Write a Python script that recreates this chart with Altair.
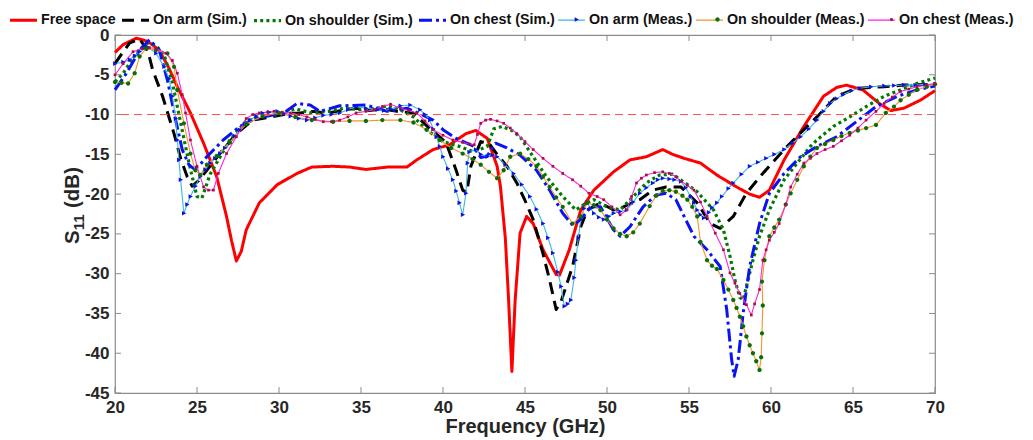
import altair as alt
import pandas as pd

FONT = "Liberation Sans"
TXT = "#262626"

series_names = ["Free space", "On arm (Sim.)", "On shoulder (Sim.)", "On chest (Sim.)",
                "On arm (Meas.)", "On shoulder (Meas.)", "On chest (Meas.)"]
meas_names = series_names[4:]

line_colors = ["#ff0000", "#000000", "#007a00", "#0a14f0", "#3cb6ea", "#f0962a", "#ff22dd"]
line_dashes = [[1, 0], [12, 7], [3, 3.2], [13, 4, 3, 4], [1, 0], [1, 0], [1, 0]]
line_widths = [3, 3, 3.2, 3, 1.1, 1.1, 1.1]
marker_colors = ["#1010e0", "#0a6e0a", "#a3123f"]
marker_paths = [
    "M-0.14,-0.17L0.18,0L-0.14,0.17Z",
    "M0.16,0A0.16,0.16,0,1,1,-0.16,0A0.16,0.16,0,1,1,0.16,0Z",
    "M-0.1,-0.1H0.1V0.1H-0.1Z",
]
marker_legend_x = [448, 589, 763]

x_ticks = [20, 25, 30, 35, 40, 45, 50, 55, 60, 65, 70]
y_ticks = [-45, -40, -35, -30, -25, -20, -15, -10, -5, 0]
ref_level = [-10]

# y-axis title pieces: S, subscript 11, (dB)
ytitle_main = ["S"]
ytitle_sub = ["11"]
ytitle_unit = ["(dB)"]

# ---- Free space
fs_f = [20, 20.5, 21.3, 22.0, 22.7, 23.3, 23.8, 24.6, 25.4, 26.2, 26.8, 27.1, 27.4, 27.7, 28.0, 28.8,
        29.9, 31.1, 32.0, 33.3, 34.3, 35.3, 36.6, 37.8, 38.4, 39.4, 40.4, 41.4, 42.0, 42.7, 43.3, 43.5,
        43.8, 44.0, 44.2, 44.4, 44.7, 45.1, 45.5, 46.1, 46.9, 47.1, 47.7, 48.4, 49.2, 50.4, 51.4, 52.4,
        53.4, 54.0, 54.7, 55.7, 56.7, 57.9, 58.7, 59.3, 59.9, 60.8, 62.0, 63.2, 64.0, 64.6, 65.6, 66.6,
        67.3, 68.1, 69.1, 70]
fs_db = [-2.2, -1.2, -0.4, -0.8, -1.9, -4.2, -6.5, -9.8, -13.6, -17.8, -22.8, -25.8, -28.4, -27.2, -24.5, -21.1,
         -18.8, -17.4, -16.6, -16.5, -16.6, -16.9, -16.6, -16.6, -15.7, -14.4, -13.8, -12.4, -12.0, -13.0, -16.5, -19.0,
         -25.5, -33.3, -42.3, -33.3, -24.9, -22.8, -23.7, -27.0, -30.1, -30.2, -27.0, -22.0, -19.5, -17.2, -15.7, -15.3,
         -14.4, -15.0, -15.5, -16.1, -17.6, -19.1, -20.0, -20.4, -19.5, -15.7, -11.5, -7.7, -6.6, -6.3, -6.9, -8.6,
         -9.5, -9.2, -8.2, -7.0]

# ---- On arm (Sim.)
arm_sim_f = [20, 20.4, 20.9, 21.5, 22.0, 22.3, 22.9, 23.6, 24.0, 24.4, 24.7, 25.1, 25.6, 26.4, 27.4, 28.4,
             29.5, 30.5, 31.3, 32.1, 33.0, 34.0, 34.7, 35.5, 36.3, 37.2, 38.2, 39.2, 39.8, 40.2, 40.8, 41.2,
             41.45, 41.7, 42.3, 42.8, 43.3, 43.9, 44.5, 45.0, 45.5, 46.1, 46.5, 46.9, 47.2, 47.5, 47.9, 48.4,
             48.8, 49.6, 50.4, 51.0, 52.0, 52.8, 53.6, 54.5, 55.5, 56.3, 56.9, 57.7, 58.5, 59.5, 60.8, 61.8,
             62.8, 64.0, 65.2, 66.9, 68.1, 70]
arm_sim_db = [-3.6, -2.4, -1.0, -0.5, -2.0, -4.4, -7.7, -12.4, -15.5, -17.8, -19.0, -18.3, -17.0, -14.9, -12.4, -10.7,
              -10.3, -9.9, -9.8, -9.6, -9.8, -9.4, -9.2, -9.5, -9.3, -9.6, -9.8, -11.8, -12.8, -13.6, -17.0, -19.5,
              -19.8, -16.5, -13.4, -13.6, -15.0, -16.5, -18.6, -20.8, -23.2, -27.5, -30.8, -34.5, -33.5, -31.6, -29.1, -24.1,
              -22.0, -21.1, -22.0, -21.6, -20.7, -19.5, -19.1, -19.1, -21.1, -23.7, -24.3, -22.8, -19.9, -17.4, -14.4, -12.3,
              -10.3, -7.7, -6.7, -6.5, -6.3, -6.2]

# ---- On shoulder (Sim.)
sh_sim_f = [20, 20.5, 21.0, 21.5, 22.0, 22.5, 23.0, 23.5, 24.0, 24.5, 25.0, 25.3, 25.8, 26.5, 27.0, 28.0,
            29.0, 30.0, 31.0, 32.0, 33.0, 34.0, 35.0, 36.0, 36.6, 37.4, 38.2, 39.0, 40.0, 41.0, 41.9, 42.7,
            43.1, 43.6, 44.2, 44.7, 45.5, 46.3, 47.3, 48.1, 48.6, 49.2, 50.0, 50.8, 51.6, 52.4, 53.2, 54.0,
            54.7, 55.5, 56.5, 57.1, 57.5, 57.8, 58.1, 58.3, 58.5, 58.9, 59.3, 59.9, 60.8, 61.6, 62.4, 62.8,
            63.8, 64.8, 65.8, 66.9, 67.9, 68.9, 70]
sh_sim_db = [-5.9, -4.8, -3.2, -1.8, -1.0, -1.3, -2.5, -6.0, -11.0, -16.0, -20.3, -20.5, -17.5, -15.0, -13.2, -10.8,
             -10.2, -10.0, -9.3, -9.8, -9.6, -9.2, -9.4, -9.2, -8.9, -9.4, -10.3, -11.9, -13.4, -14.0, -14.7, -14.0,
             -11.8, -11.5, -12.0, -12.8, -15.3, -17.8, -20.3, -22.0, -21.3, -20.7, -21.6, -22.0, -20.3, -18.6, -17.6, -17.5,
             -18.5, -19.7, -22.0, -24.5, -27.8, -30.8, -33.0, -33.3, -31.6, -28.3, -25.3, -22.0, -18.2, -16.1, -14.0, -13.2,
             -11.5, -10.3, -9.0, -7.7, -6.9, -6.1, -5.4]

# ---- On chest (Sim.)
ch_sim_f = [20, 20.7, 21.5, 22.1, 22.7, 23.2, 23.7, 24.1, 24.5, 24.8, 25.1, 25.6, 26.6, 27.6, 28.5, 29.3,
            30.3, 31.1, 31.9, 32.5, 33.7, 35.3, 36.6, 37.8, 38.8, 39.4, 40.0, 40.8, 41.9, 42.3, 42.7, 43.2,
            43.9, 44.7, 45.7, 46.5, 47.3, 47.9, 48.4, 49.0, 49.6, 50.4, 50.8, 51.4, 52.2, 53.0, 53.6, 54.2,
            54.7, 55.3, 56.1, 56.9, 57.3, 57.6, 57.75, 58.0, 58.3, 58.7, 59.3, 59.9, 60.8, 61.8, 62.8, 64.0,
            65.2, 66.4, 67.7, 68.9, 70]
ch_sim_db = [-6.9, -4.8, -1.9, -0.6, -1.9, -5.7, -10.7, -14.4, -16.3, -16.8, -16.5, -15.3, -13.2, -11.5, -10.6, -10.2,
             -9.8, -8.6, -8.8, -9.6, -8.9, -8.8, -9.6, -9.2, -10.1, -10.7, -11.9, -13.0, -14.0, -15.4, -15.2, -13.6,
             -14.2, -15.1, -17.0, -19.5, -22.4, -23.9, -23.2, -21.6, -21.6, -24.5, -25.3, -24.1, -21.6, -20.1, -19.9, -20.7,
             -22.8, -25.3, -27.0, -29.1, -34.5, -40.8, -42.9, -40.8, -35.0, -29.1, -23.7, -19.9, -17.4, -15.3, -14.0, -12.8,
             -10.9, -9.0, -7.7, -6.9, -6.4]

# ---- On arm (Meas.)
arm_meas_f = [20, 20.5, 20.9, 21.2, 21.5, 22.0, 22.5, 23.0, 23.3, 23.5, 23.7, 23.8, 23.9, 24.0, 24.2, 24.4,
              24.6, 24.9, 25.2, 25.5, 25.8, 26.1, 26.4, 26.7, 27.0, 27.3, 27.6, 27.9, 28.2, 28.6, 29.0, 29.4,
              29.9, 30.3, 30.7, 31.2, 31.7, 32.2, 32.7, 33.2, 33.7, 34.2, 34.7, 35.3, 36.0, 36.4, 36.8, 37.4,
              38.0, 38.6, 38.9, 39.2, 39.4, 39.6, 39.8, 40.0, 40.3, 40.6, 40.8, 41.0, 41.2, 41.4, 41.5, 41.6,
              42.0, 42.3, 42.7, 43.0, 43.3, 43.8, 44.3, 44.8, 45.3, 45.7, 46.1, 46.4, 46.7, 47.0, 47.2, 47.4,
              47.6, 47.8, 48.0, 48.1, 48.25, 48.4, 48.6, 48.8, 49.0, 49.2, 49.5, 49.8, 50.1, 50.4, 50.8, 51.2,
              51.6, 52.0, 52.4, 52.8, 53.1, 53.4, 53.8, 54.1, 54.5, 54.8, 55.1, 55.3, 55.5, 55.7, 55.9, 56.2,
              56.4, 56.7, 57.0, 57.4, 57.7, 58.2, 58.7, 59.2, 59.7, 60.2, 60.8, 61.3, 61.8, 62.3, 62.8, 63.2,
              63.6, 64.0, 64.4, 64.9, 65.4, 66.1, 66.9, 67.5, 68.1, 68.8, 69.4, 70]
arm_meas_db = [-3.6, -3.4, -3.1, -2.6, -2.1, -1.5, -2.3, -4.0, -5.5, -7.7, -10.5, -13.2, -15.7, -18.2, -22.4, -21.3,
               -20.3, -19.0, -17.8, -16.9, -16.1, -15.5, -14.9, -14.2, -13.6, -12.7, -11.9, -11.2, -10.7, -10.2, -9.8, -9.7,
               -9.6, -9.9, -10.2, -10.5, -10.7, -10.4, -10.1, -10.0, -9.8, -9.4, -9.0, -9.2, -9.4, -9.5, -9.3, -8.9,
               -8.8, -9.4, -10.0, -10.7, -11.8, -12.8, -14.0, -15.3, -16.8, -18.2, -19.6, -21.1, -22.6, -19.9, -16.1, -14.7,
               -14.4, -15.0, -15.3, -15.1, -15.3, -16.3, -17.4, -18.8, -20.3, -21.9, -23.7, -25.5, -27.4, -29.8, -31.6, -34.1,
               -33.8, -33.3, -30.5, -28.3, -25.5, -23.2, -21.8, -21.1, -21.8, -22.4, -22.9, -23.2, -22.8, -22.4, -22.2, -22.0,
               -21.0, -19.9, -19.2, -18.6, -18.2, -18.0, -18.1, -18.2, -18.4, -19.2, -20.3, -21.1, -22.0, -22.6, -23.0, -22.3,
               -21.7, -21.1, -20.3, -19.3, -18.6, -17.5, -16.5, -16.0, -15.5, -15.0, -14.4, -13.6, -12.8, -11.8, -10.7, -9.6,
               -8.6, -8.0, -7.5, -7.0, -6.7, -6.5, -6.4, -6.35, -6.3, -6.3, -6.2, -6.2]

# ---- On shoulder (Meas.)
sh_meas_f = [20, 20.4, 20.8, 21.2, 21.5, 21.9, 22.5, 23.2, 23.6, 23.8, 24.2, 24.6, 24.9, 25.2, 25.6, 26.2,
             27.0, 28.0, 29.0, 30.0, 31.0, 32.0, 33.3, 34.3, 35.3, 36.3, 37.4, 38.2, 39.0, 39.8, 40.5, 41.2,
             41.8, 42.3, 42.8, 43.3, 43.7, 44.1, 44.7, 45.2, 45.7, 46.1, 46.5, 46.9, 47.3, 47.9, 48.4, 48.8,
             49.2, 49.6, 50.0, 50.4, 50.8, 51.2, 51.6, 52.0, 52.6, 53.0, 53.4, 53.8, 54.2, 54.6, 54.9, 55.2,
             55.5, 55.7, 56.1, 56.4, 56.7, 57.1, 57.4, 57.7, 57.9, 58.1, 58.3, 58.5, 58.7, 58.9, 59.1, 59.3,
             59.4, 59.45, 59.5, 59.45, 59.6, 59.9, 60.2, 60.5, 60.9, 61.2, 61.6, 62.0, 62.4, 62.8, 63.3, 63.8,
             64.3, 64.8, 65.3, 65.8, 66.4, 67.0, 67.5, 67.9, 68.4, 68.9, 69.5, 70]
sh_meas_db = [-5.9, -6.0, -6.1, -4.8, -2.7, -1.7, -1.9, -2.3, -4.0, -6.9, -11.1, -14.9, -17.0, -17.6, -16.3, -15.2,
              -13.5, -11.2, -10.2, -9.8, -10.3, -10.7, -10.9, -10.8, -10.8, -10.7, -10.7, -11.0, -11.9, -13.2, -14.2, -14.9,
              -15.6, -16.3, -17.2, -18.0, -17.0, -15.3, -14.9, -15.6, -16.5, -17.8, -19.1, -20.4, -21.6, -23.7, -22.8, -21.1,
              -21.4, -22.0, -23.2, -24.3, -25.0, -25.3, -24.8, -23.7, -21.5, -20.2, -19.6, -19.5, -19.7, -20.2, -20.7, -21.6,
              -22.8, -26.0, -28.3, -29.0, -29.4, -30.8, -32.0, -33.3, -34.3, -35.4, -36.6, -37.9, -39.0, -40.0, -41.0, -42.1,
              -40.5, -37.5, -34.0, -31.0, -28.3, -25.3, -24.2, -23.2, -21.3, -19.9, -18.2, -16.5, -15.3, -14.2, -13.7, -13.2,
              -12.7, -12.3, -12.0, -11.7, -11.3, -9.8, -9.0, -8.2, -7.5, -6.9, -6.5, -6.2]

# ---- On chest (Meas.)
ch_meas_f = [20, 20.5, 21.1, 21.7, 22.1, 22.5, 23.1, 23.5, 23.8, 24.1, 24.3, 24.6, 25.0, 25.4, 25.7, 26.0,
             26.3, 26.8, 27.4, 28.0, 28.4, 28.8, 29.3, 29.7, 30.2, 30.7, 31.2, 31.7, 32.2, 32.7, 33.2, 33.7,
             34.2, 34.7, 35.3, 35.8, 36.3, 36.8, 37.4, 37.9, 38.4, 38.9, 39.4, 40.0, 40.6, 41.2, 41.6, 41.9,
             42.1, 42.3, 42.6, 42.9, 43.3, 43.7, 44.1, 44.5, 45.0, 45.5, 46.1, 46.7, 47.3, 47.9, 48.4, 48.9,
             49.4, 49.8, 50.3, 50.8, 51.2, 51.5, 51.8, 52.1, 52.4, 52.9, 53.4, 53.8, 54.2, 54.5, 54.9, 55.3,
             55.7, 56.1, 56.6, 57.1, 57.5, 57.8, 58.1, 58.5, 58.8, 59.0, 59.3, 59.5, 59.7, 59.9, 60.2, 60.5,
             60.9, 61.2, 61.6, 62.0, 62.4, 62.8, 63.3, 63.8, 64.3, 64.8, 65.3, 65.8, 66.4, 66.9, 67.4, 67.9,
             68.4, 68.9, 69.5, 70]
ch_meas_db = [-5.0, -3.6, -2.1, -1.7, -1.6, -1.7, -2.3, -3.2, -4.8, -7.5, -9.8, -13.2, -16.5, -19.1, -19.5, -19.5,
              -17.4, -14.9, -12.8, -10.5, -10.0, -9.8, -9.7, -9.6, -9.7, -9.8, -10.0, -10.3, -10.6, -10.9, -10.9, -10.7,
              -10.3, -9.8, -9.6, -9.4, -9.0, -8.7, -9.2, -9.5, -9.8, -10.8, -11.9, -12.6, -13.2, -13.5, -13.7, -13.8,
              -12.5, -11.1, -10.7, -10.6, -10.8, -11.1, -11.7, -12.4, -13.4, -14.4, -15.5, -16.5, -17.4, -18.2, -19.0, -19.9,
              -20.3, -20.7, -21.6, -22.6, -22.0, -20.3, -18.6, -18.0, -17.6, -17.3, -17.2, -17.4, -17.8, -18.4, -18.9, -19.5,
              -21.0, -22.8, -24.9, -27.0, -29.9, -31.2, -32.5, -33.9, -35.2, -33.8, -32.0, -28.3, -27.0, -25.8, -24.8, -23.7,
              -21.3, -19.1, -17.5, -16.1, -15.5, -14.9, -14.4, -14.0, -13.3, -12.6, -11.7, -10.7, -9.6, -8.6, -7.8, -7.1,
              -6.8, -6.5, -6.3, -6.1]

all_series = [
    (series_names[0], fs_f, fs_db),
    (series_names[1], arm_sim_f, arm_sim_db),
    (series_names[2], sh_sim_f, sh_sim_db),
    (series_names[3], ch_sim_f, ch_sim_db),
    (series_names[4], arm_meas_f, arm_meas_db),
    (series_names[5], sh_meas_f, sh_meas_db),
    (series_names[6], ch_meas_f, ch_meas_db),
]

rows = []
for name, fx, dy in all_series:
    if len(fx) != len(dy):
        raise ValueError(f"{name}: {len(fx)} vs {len(dy)}")
    for i, (a, b) in enumerate(zip(fx, dy)):
        rows.append({"series": name, "f": a, "db": b, "i": i})
df = pd.DataFrame(rows)

x_scale = alt.Scale(domain=[20, 70], nice=False, zero=False)
y_scale = alt.Scale(domain=[-45, 0], nice=False, zero=False)

x_axis = alt.Axis(values=x_ticks, ticks=False, domain=False, grid=False, labelFont=FONT, labelFontSize=17,
                  labelFontWeight="bold", labelColor=TXT, labelPadding=6, labelFlush=False,
                  title="Frequency (GHz)", titleFont=FONT, titleFontSize=20, titleFontWeight="bold",
                  titleColor=TXT, titlePadding=1)
y_axis = alt.Axis(values=y_ticks, ticks=False, domain=False, grid=False, labelFont=FONT, labelFontSize=17,
                  labelFontWeight="bold", labelColor=TXT, labelPadding=6, labelFlush=False,
                  labelExpr="toString(datum.value)", title=None)

leg_lines = alt.Legend(title=None, orient="none", legendX=-107, legendY=-30, direction="horizontal", columns=7,
                       labelFont=FONT, labelFontSize=14.3, labelFontWeight="bold", labelColor="#111111",
                       symbolType="stroke", symbolSize=729, labelOffset=2, columnPadding=0, padding=0,
                       rowPadding=0)

ref = alt.Chart(pd.DataFrame({"v": ref_level})).mark_rule(
    color="#ff4d4d", strokeDash=[8, 5], strokeWidth=1).encode(
    y=alt.Y("v:Q", scale=y_scale, axis=y_axis))

lines = alt.Chart(df).mark_line(strokeJoin="round").encode(
    x=alt.X("f:Q", scale=x_scale, axis=x_axis),
    y=alt.Y("db:Q", scale=y_scale, axis=y_axis),
    color=alt.Color("series:N", scale=alt.Scale(domain=series_names, range=line_colors), legend=leg_lines),
    strokeDash=alt.StrokeDash("series:N", scale=alt.Scale(domain=series_names, range=line_dashes),
                              legend=leg_lines),
    strokeWidth=alt.StrokeWidth("series:N", scale=alt.Scale(type="ordinal", domain=series_names,
                                                            range=line_widths), legend=leg_lines),
    order=alt.Order("i:Q"),
)

marker_layers = []
for name, path, col, lx in zip(meas_names, marker_paths, marker_colors, marker_legend_x):
    leg = alt.Legend(title=None, orient="none", legendX=lx, legendY=-29, labelExpr="''", labelFontSize=1,
                     symbolSize=729, symbolStrokeWidth=0, labelOffset=0, padding=0)
    marker_layers.append(
        alt.Chart(df[df["series"] == name]).mark_point(filled=True, size=729, strokeWidth=0, opacity=1).encode(
            x=alt.X("f:Q", scale=x_scale, axis=x_axis),
            y=alt.Y("db:Q", scale=y_scale, axis=y_axis),
            shape=alt.Shape("series:N", scale=alt.Scale(domain=[name], range=[path]), legend=leg),
            fill=alt.Fill("series:N", scale=alt.Scale(domain=[name], range=[col]), legend=leg),
        )
    )

tick_df_x = pd.DataFrame({"v": x_ticks})
tick_df_y = pd.DataFrame({"v": y_ticks})
tc = "#8c8c8c"
xt_bot = alt.Chart(tick_df_x).mark_rule(color=tc, strokeWidth=1).encode(
    x=alt.X("v:Q", scale=x_scale, axis=x_axis), y=alt.value(358), y2=alt.value(352))
xt_top = alt.Chart(tick_df_x).mark_rule(color=tc, strokeWidth=1).encode(
    x=alt.X("v:Q", scale=x_scale, axis=x_axis), y=alt.value(0), y2=alt.value(6))
yt_left = alt.Chart(tick_df_y).mark_rule(color=tc, strokeWidth=1).encode(
    y=alt.Y("v:Q", scale=y_scale, axis=y_axis), x=alt.value(0), x2=alt.value(6))
yt_right = alt.Chart(tick_df_y).mark_rule(color=tc, strokeWidth=1).encode(
    y=alt.Y("v:Q", scale=y_scale, axis=y_axis), x=alt.value(820), x2=alt.value(814))

# rotated y-axis title with a real subscript
title_style = dict(angle=270, align="left", baseline="alphabetic", font=FONT, fontWeight="bold", color=TXT)
yt_s = alt.Chart(pd.DataFrame({"t": ytitle_main})).mark_text(fontSize=20.5, **title_style).encode(
    text="t:N", x=alt.value(-36), y=alt.value(209))
yt_11 = alt.Chart(pd.DataFrame({"t": ytitle_sub})).mark_text(fontSize=15, **title_style).encode(
    text="t:N", x=alt.value(-31), y=alt.value(195.3))
yt_db = alt.Chart(pd.DataFrame({"t": ytitle_unit})).mark_text(fontSize=20.5, **title_style).encode(
    text="t:N", x=alt.value(-36), y=alt.value(173))

chart = alt.layer(lines, ref, xt_bot, xt_top, yt_left, yt_right, *marker_layers, yt_s, yt_11, yt_db).resolve_scale(
    shape="independent", fill="independent"
).properties(
    width=820, height=358,
    autosize=alt.AutoSizeParams(type="none"),
    padding={"left": 115, "top": 35, "right": 98, "bottom": 47},
    background="white",
).configure_view(stroke="#8c8c8c", strokeWidth=1.2)

chart.save("out.html", embed_options={"renderer": "svg", "actions": False})
